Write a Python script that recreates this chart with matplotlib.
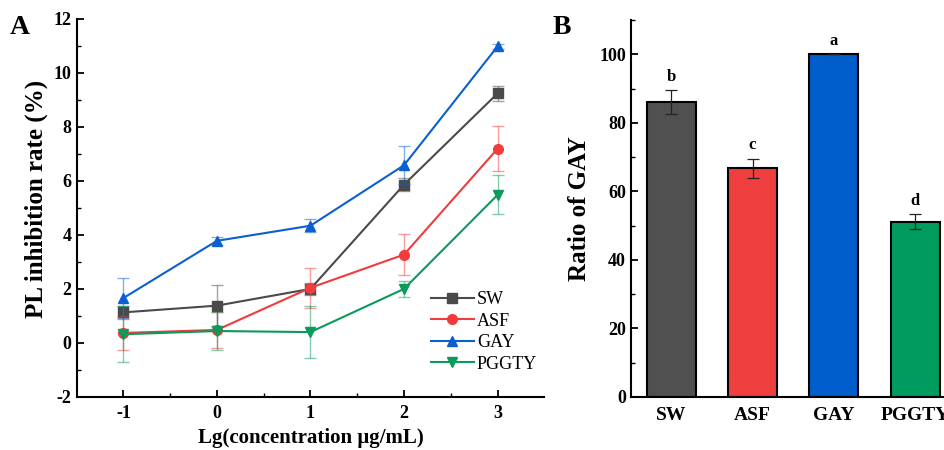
import numpy as np
import matplotlib.pyplot as plt

# ---- data ----
lg_conc = [-1, 0, 1, 2, 3]

sw_rate = [1.13, 1.38, 2.00, 5.86, 9.24]
sw_err = [0.25, 0.76, 0.22, 0.25, 0.27]
asf_rate = [0.37, 0.48, 2.04, 3.27, 7.19]
asf_err = [0.64, 0.66, 0.73, 0.75, 0.83]
gay_rate = [1.66, 3.78, 4.34, 6.58, 10.98]
gay_err = [0.75, 0.15, 0.24, 0.70, 0.08]
pggty_rate = [0.32, 0.44, 0.40, 2.00, 5.48]
pggty_err = [1.03, 0.70, 0.97, 0.30, 0.72]

groups = ["SW", "ASF", "GAY", "PGGTY"]
ratio_gay = [86.2, 66.8, 100.0, 51.1]
ratio_err = [3.5, 2.8, 0.0, 2.2]
sig_letters = ["b", "c", "a", "d"]

line_colors = ["#4a4a4a", "#f03c3c", "#0b5fd0", "#0a9a5a"]
bar_colors = ["#505050", "#ef3e3e", "#005ecc", "#009b5e"]
markers = ["s", "o", "^", "v"]

plt.rcParams["font.family"] = ["Liberation Serif", "DejaVu Serif"]
plt.rcParams["axes.unicode_minus"] = False

fig = plt.figure(figsize=(9.45, 4.5), dpi=100)

# ---- panel A ----
axA = fig.add_axes([0.081, 0.118, 0.495, 0.840])
series = [sw_rate, asf_rate, gay_rate, pggty_rate]
errs = [sw_err, asf_err, gay_err, pggty_err]
for name, y, e, c, m in zip(groups, series, errs, line_colors, markers):
    axA.errorbar(lg_conc, y, yerr=e, fmt="none", ecolor=c, alpha=0.5,
                 elinewidth=1.0, capsize=4, capthick=1.0)
    axA.plot(lg_conc, y, color=c, marker=m, markersize=7, linewidth=1.5,
             label=name)

axA.set_xlim(-1.5, 3.5)
axA.set_ylim(-2, 12)
axA.set_xticks(lg_conc)
axA.set_xticks([-0.5, 0.5, 1.5, 2.5], minor=True)
axA.set_yticks(range(-2, 13, 2))
axA.set_yticks(range(-1, 12, 2), minor=True)
axA.tick_params(direction="in", which="major", length=5, width=1.3,
                labelsize=13)
axA.tick_params(axis="x", pad=6)
axA.tick_params(direction="in", which="minor", length=3, width=1.0)
for lab in axA.get_xticklabels() + axA.get_yticklabels():
    lab.set_fontweight("bold")
axA.spines["top"].set_visible(False)
axA.spines["right"].set_visible(False)
axA.spines["left"].set_linewidth(1.5)
axA.spines["bottom"].set_linewidth(1.5)
axA.set_xlabel("Lg(concentration \u03bcg/mL)", fontsize=15,
               fontweight="bold", labelpad=4)
axA.set_ylabel("PL inhibition rate (%)", fontsize=18, fontweight="bold",
               labelpad=4)
axA.yaxis.label.set_y(0.524)
axA.legend(loc="lower right", bbox_to_anchor=(1.0, 0.045), frameon=False,
           fontsize=13, handlelength=2.4, labelspacing=0.25,
           handletextpad=0.15, borderaxespad=0)
fig.text(0.010, 0.925, "A", fontsize=20, fontweight="bold")

# ---- panel B ----
axB = fig.add_axes([0.6674, 0.118, 0.344, 0.837])
xpos = np.arange(len(groups))
axB.bar(xpos, ratio_gay, width=0.6, color=bar_colors, edgecolor="black",
        linewidth=1.5, zorder=2)
axB.errorbar(xpos, ratio_gay, yerr=ratio_err, fmt="none", ecolor="#222222",
             elinewidth=0.9, capsize=4, capthick=0.9, zorder=3)
for x, v, e, s in zip(xpos, ratio_gay, ratio_err, sig_letters):
    axB.text(x, v + e + 1.5, s, ha="center", va="bottom", fontsize=12,
             fontweight="bold")

axB.set_xlim(-0.5, 3.5)
axB.set_ylim(0, 110)
axB.set_xticks(xpos)
axB.set_xticklabels(groups)
axB.set_yticks(range(0, 101, 20))
axB.set_yticks(range(10, 111, 20), minor=True)
axB.tick_params(direction="in", which="major", length=5, width=1.3,
                labelsize=13)
axB.tick_params(axis="x", labelsize=14, pad=7)
axB.tick_params(direction="in", which="minor", length=3, width=1.0)
for lab in axB.get_xticklabels() + axB.get_yticklabels():
    lab.set_fontweight("bold")
axB.spines["top"].set_visible(False)
axB.spines["right"].set_visible(False)
axB.spines["left"].set_linewidth(1.5)
axB.spines["bottom"].set_linewidth(1.5)
axB.set_ylabel("Ratio of GAY", fontsize=18, fontweight="bold", labelpad=6)
fig.text(0.585, 0.925, "B", fontsize=20, fontweight="bold")

fig.savefig("out.png", dpi=100)
